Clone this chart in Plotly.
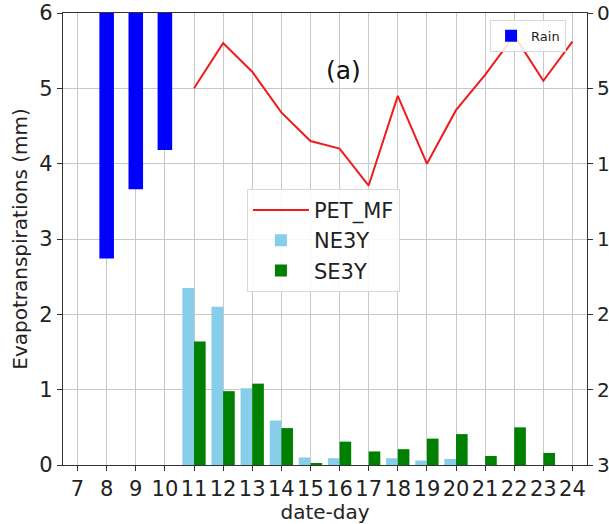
import plotly.graph_objects as go

days = list(range(7, 25))
rain_days = [8, 9, 10]
rain = [16.3, 11.7, 9.1]
pet_days = list(range(11, 25))
pet_mf = [5.0, 5.6, 5.22, 4.68, 4.3, 4.2, 3.71, 4.9, 4.0, 4.71, 5.18, 5.7, 5.1, 5.62]
bar_days = list(range(11, 25))
ne3y = [2.35, 2.10, 1.02, 0.59, 0.10, 0.09, 0.0, 0.09, 0.06, 0.08, 0.0, 0.0, 0.0, 0.0]
se3y = [1.64, 0.98, 1.08, 0.49, 0.02, 0.31, 0.18, 0.21, 0.35, 0.41, 0.12, 0.50, 0.16, 0.0]
left_ticks = [0, 1, 2, 3, 4, 5, 6]
right_ticks = [0, 5, 10, 15, 20, 25, 30]

FONT = "DejaVu Sans"

fig = go.Figure()
fig.add_trace(go.Bar(x=rain_days, y=rain, base=0, width=0.5, offset=-0.25,
                     marker=dict(color="#0000ff", line=dict(width=0)),
                     name="Rain", yaxis="y2", legend="legend2"))
fig.add_trace(go.Scatter(x=pet_days, y=pet_mf, mode="lines",
                         line=dict(color="#ee1c1c", width=2),
                         name="PET_MF", legend="legend"))
fig.add_trace(go.Bar(x=bar_days, y=ne3y, width=0.4, offset=-0.4,
                     marker=dict(color="#87ceeb", line=dict(width=0)),
                     name="NE3Y", legend="legend"))
fig.add_trace(go.Bar(x=bar_days, y=se3y, width=0.4, offset=0.0,
                     marker=dict(color="#008000", line=dict(width=0)),
                     name="SE3Y", legend="legend"))

fig.update_layout(
    width=609, height=524,
    margin=dict(l=63, r=22, t=13, b=59),
    paper_bgcolor="white", plot_bgcolor="white",
    barmode="overlay",
    font=dict(family=FONT, size=21, color="#222"),
    xaxis=dict(range=[6.5, 24.5], tickvals=days, ticktext=[str(d) for d in days],
               showgrid=True, gridcolor="#c8c8c8", gridwidth=1,
               showline=True, linecolor="#333", linewidth=1.2, mirror=True,
               ticks="outside", ticklen=5, tickcolor="#333", zeroline=False,
               automargin=False, tickfont=dict(size=21),
               title=dict(text="date-day", font=dict(size=20), standoff=2)),
    yaxis=dict(range=[0, 6], tickvals=left_ticks,
               showgrid=True, gridcolor="#c8c8c8", gridwidth=1,
               showline=True, linecolor="#333", linewidth=1.2,
               ticks="outside", ticklen=5, tickcolor="#333", zeroline=False,
               automargin=False, tickfont=dict(size=21),
               title=dict(text="Evapotranspirations (mm)", font=dict(size=20), standoff=6)),
    yaxis2=dict(range=[30, 0], tickvals=right_ticks, overlaying="y", side="right",
                showgrid=False, showline=True, linecolor="#333", linewidth=1.2,
                ticks="outside", ticklen=5, tickcolor="#333", zeroline=False,
                automargin=False, tickfont=dict(size=20)),
    legend=dict(x=0.351, y=0.611, xanchor="left", yanchor="top",
                bgcolor="rgba(255,255,255,0.85)", bordercolor="#d9d9d9", borderwidth=1,
                font=dict(size=21), traceorder="normal",
                itemwidth=56),
    legend2=dict(x=0.815, y=0.985, xanchor="left", yanchor="top",
                 bgcolor="rgba(255,255,255,0.85)", bordercolor="#d9d9d9", borderwidth=1,
                 font=dict(size=13)),
    annotations=[dict(text="(a)", x=0.536, y=0.91, xref="paper", yref="paper",
                      showarrow=False, font=dict(size=25, family=FONT, color="#111"))],
)

fig.write_html("out.html", post_script="document.body.style.margin='0';",
               config={"displayModeBar": False})
